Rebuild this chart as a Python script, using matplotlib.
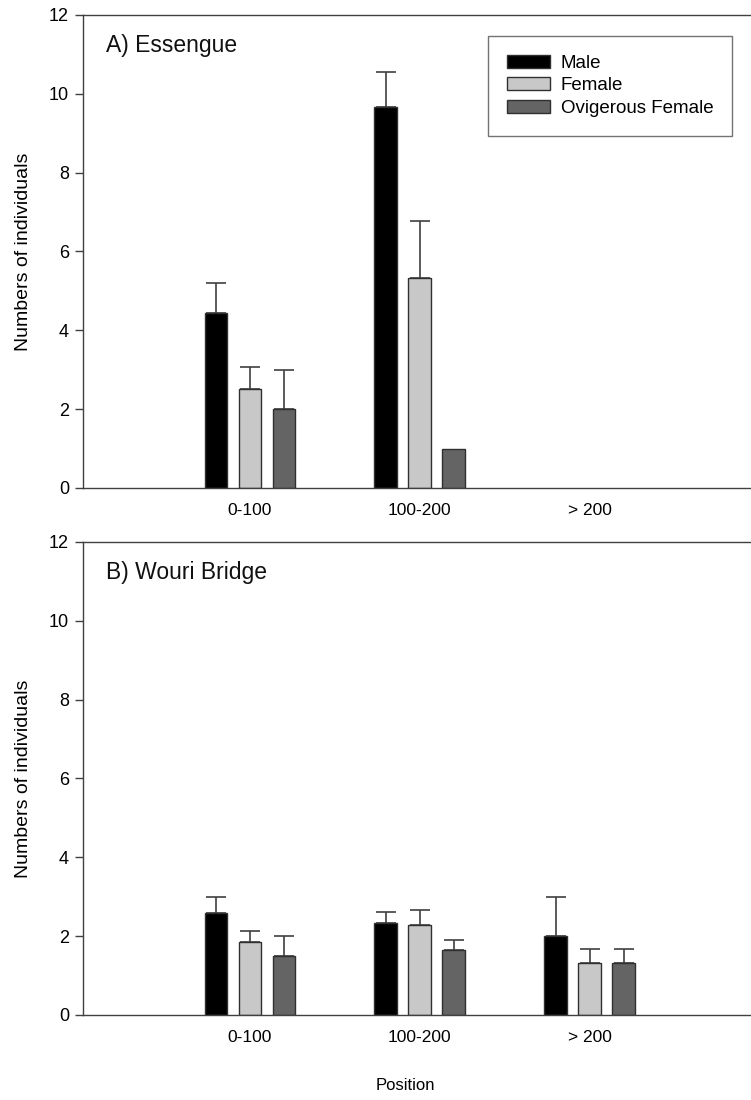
import numpy as np
import matplotlib
matplotlib.use("Agg")
import matplotlib.pyplot as plt

plt.rcParams["font.family"] = ["Liberation Sans", "DejaVu Sans"]

positions = ["0-100", "100-200", "> 200"]
groups = ["Male", "Female", "Ovigerous Female"]
colors = ["#000000", "#c8c8c8", "#646464"]

# A) Essengue (no animals found beyond 200)
ess_mean = {
    "Male": [4.44, 9.67, np.nan],
    "Female": [2.50, 5.33, np.nan],
    "Ovigerous Female": [2.00, 1.00, np.nan],
}
ess_err = {
    "Male": [0.75, 0.89, np.nan],
    "Female": [0.58, 1.45, np.nan],
    "Ovigerous Female": [1.00, 0.0, np.nan],
}

# B) Wouri Bridge
wou_mean = {
    "Male": [2.58, 2.33, 2.00],
    "Female": [1.85, 2.28, 1.33],
    "Ovigerous Female": [1.50, 1.65, 1.33],
}
wou_err = {
    "Male": [0.42, 0.27, 1.00],
    "Female": [0.27, 0.39, 0.34],
    "Ovigerous Female": [0.50, 0.26, 0.34],
}

line_col = "#404040"


def draw_panel(ax, means, errs, title, legend=False):
    x = np.arange(1, len(positions) + 1)
    width = 0.13
    step = 0.2
    for i, g in enumerate(groups):
        xi = x + (i - 1) * step
        m = np.array(means[g], dtype=float)
        e = np.array(errs[g], dtype=float)
        ax.bar(xi, m, width, color=colors[i], edgecolor="#303030",
               linewidth=1.0, label=g, zorder=2)
        ok = ~np.isnan(m) & (e > 0)
        ax.errorbar(xi[ok], m[ok], yerr=[np.zeros(ok.sum()), e[ok]],
                    fmt="none", ecolor=line_col, elinewidth=1.2,
                    capsize=7.5, capthick=1.2, zorder=1)
    ax.set_xlim(0.02, 3.95)
    ax.set_ylim(0, 12)
    ax.set_yticks(np.arange(0, 13, 2))
    ax.set_xticks(x)
    ax.set_xticklabels(positions)
    ax.set_ylabel("Numbers of individuals", fontsize=14, labelpad=12)
    ax.tick_params(axis="y", direction="out", length=6, width=1.0,
                   color=line_col, labelsize=13, pad=4)
    ax.tick_params(axis="x", length=0, labelsize=12.5, pad=11)
    for side in ["left", "bottom", "top"]:
        ax.spines[side].set_color(line_col)
        ax.spines[side].set_linewidth(1.0)
    ax.spines["right"].set_visible(False)
    ax.text(0.035, 0.935, title, transform=ax.transAxes, fontsize=16.5,
            va="center", ha="left", color="#111111")
    if legend:
        leg = ax.legend(loc="upper right", bbox_to_anchor=(0.972, 0.955),
                        fontsize=13.5, frameon=True, fancybox=False,
                        edgecolor="#505050", borderpad=1.0,
                        handlelength=2.3, handleheight=0.7,
                        handletextpad=0.6, labelspacing=0.28,
                        borderaxespad=0)
        leg.get_frame().set_linewidth(1.0)


fig = plt.figure(figsize=(7.51, 11.0), dpi=100)
ax1 = fig.add_axes([0.1105, 0.5564, 0.8895, 0.43])
ax2 = fig.add_axes([0.1105, 0.0773, 0.8895, 0.43])

draw_panel(ax1, ess_mean, ess_err, "A) Essengue", legend=True)
draw_panel(ax2, wou_mean, wou_err, "B) Wouri Bridge")
fig.text(405 / 751, 1 - 1085 / 1100, "Position", ha="center", va="center",
         fontsize=12)

fig.savefig("out.png", dpi=100)
